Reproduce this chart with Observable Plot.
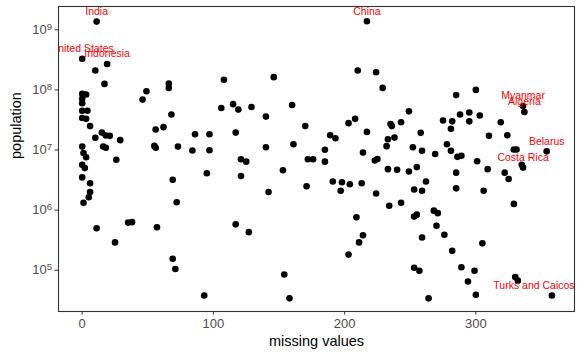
<!DOCTYPE html>
<html><head><meta charset="utf-8">
<script src="https://cdn.jsdelivr.net/npm/d3@7"></script>
<script src="https://cdn.jsdelivr.net/npm/@observablehq/plot@0.6"></script>
<style>body{margin:0;background:#fff;} #chart svg{display:block}</style>
</head><body><div id="chart"></div>
<script>
// labelled countries are the first entries of missing / population
const labels = ["India","United States","Indonesia","China","Myanmar","Algeria","Belarus","Costa Rica","Turks and Caicos"];
const missing = [11,0,19,217,336,337,354,336,358,
  10,17,0,3,0,0,0,4,0,3,6,15,10,18,21,29,0,16,18,1,3,26,0,2,0,6,6,5,1,11,35,38,25,
  49,46,56,55,56,57,62,66,66,68,73,69,72,69,71,86,84,97,97,95,108,106,115,119,129,117,121,125,121,117,127,93,
  140,140,142,146,153,154,158,160,161,170,171,172,176,185,185,189,193,191,197,198,204,213,203,208,210,214,217,209,214,211,203,
  224,223,225,224,229,249,285,300,288,295,303,275,282,295,319,235,236,243,281,258,310,324,233,238,232,252,259,278,281,269,286,289,
  329,331,301,335,233,240,249,255,285,309,322,325,262,253,259,285,306,234,243,329,253,255,268,271,270,259,276,305,282,253,257,289,299,294,264,300,330,332];
const population = [1.37e9,3.3e8,2.7e8,1.39e9,5.4e7,4.3e7,9.5e6,5.1e6,3.8e4,
  2.1e8,1.26e8,8.6e7,8.4e7,7.1e7,6.0e7,4.5e7,4.5e7,3.4e7,3.3e7,2.5e7,1.95e7,1.6e7,1.74e7,1.72e7,1.46e7,1.14e7,1.14e7,1.09e7,8.9e6,7.6e6,6.9e6,5.7e6,5.0e6,3.5e6,2.8e6,2.0e6,1.64e6,1.32e6,5.0e5,6.2e5,6.3e5,2.9e5,
  9.5e7,6.9e7,2.2e7,1.17e7,1.09e7,5.2e5,2.4e7,1.28e8,1.08e8,3.9e7,1.14e7,3.2e6,1.35e6,1.55e5,1.05e5,1.83e7,9.8e6,1.83e7,9.9e6,4.1e6,1.47e8,5.0e7,5.8e7,4.7e7,5.2e7,1.95e7,7.0e6,6.4e6,3.7e6,5.8e5,4.3e5,3.8e4,
  3.6e7,1.11e7,2.0e6,1.63e8,4.6e6,8.5e4,3.4e4,5.6e7,1.25e7,2.5e7,2.5e6,7.0e6,7.0e6,1.01e7,6.4e6,1.76e7,1.57e7,3.0e6,2.1e6,2.9e6,2.7e6,2.8e6,2.8e7,3.3e7,2.1e8,9.1e6,2.0e7,7.6e5,3.8e5,2.9e5,1.82e5,
  1.97e8,6.7e6,7.1e6,1.89e6,1.08e8,4.4e7,8.2e7,1.0e8,3.9e7,4.2e7,3.75e7,3.1e7,3.0e7,3.0e7,2.9e7,2.7e7,2.5e7,2.9e7,2.25e7,1.93e7,1.72e7,1.76e7,1.51e7,1.61e7,1.16e7,1.11e7,9.7e6,1.25e7,9.7e6,8.6e6,7.7e6,8.0e6,
  1.02e7,1.02e7,6.5e6,5.7e6,4.8e6,4.7e6,4.4e6,5.2e6,4.2e6,4.8e6,4.2e6,3.3e6,3.0e6,2.2e6,2.1e6,2.3e6,2.1e6,1.18e6,1.32e6,1.27e6,7.8e5,8.4e5,9.8e5,8.9e5,5.5e5,3.5e5,3.9e5,2.8e5,2.1e5,1.10e5,9.8e4,1.12e5,9.8e4,6.5e4,3.4e4,3.9e4,7.7e4,6.7e4];
const xTicks = [0, 100, 200, 300];
const yTicks = [1e5, 1e6, 1e7, 1e8, 1e9];
const xTitle = "missing values";
const yTitle = "population";

const data = missing.map((m, i) => ({missing: m, population: population[i], label: labels[i] ?? null}));
const labelled = data.filter(d => d.label && d.label !== "Turks and Caicos");
const edgeLabel = data.filter(d => d.label === "Turks and Caicos");

const font = "'Liberation Sans', Arial, Helvetica, sans-serif";
const plot = Plot.plot({
  width: 577, height: 354,
  marginLeft: 58, marginRight: 3, marginTop: 6, marginBottom: 43,
  style: {fontFamily: font, background: "#fff", overflow: "visible"},
  x: {domain: [-18.06, 375.2]},
  y: {type: "log", domain: [Math.pow(10, 4.313), Math.pow(10, 9.388)]},
  marks: [
    Plot.axisX({ticks: xTicks, tickSize: 3.5, tickPadding: 4, fontSize: 13, stroke: "#333", fill: "#4d4d4d", label: null}),
    Plot.axisY({ticks: yTicks, tickSize: 3.5, tickPadding: 3, fontSize: 13, stroke: "#333", fill: "#4d4d4d", label: null,
      tickFormat: d => "10^" + Math.round(Math.log10(d))}),
    Plot.dot(data, {x: "missing", y: "population", r: 3.3, fill: "black", stroke: "none"}),
    Plot.text(labelled, {x: "missing", y: "population", text: "label", dy: -10, fill: "red", fontSize: 10.5, clip: true}),
    Plot.text(edgeLabel, {x: "missing", y: "population", text: "label", dy: -10, dx: -18, fill: "red", fontSize: 10.5, clip: true}),
    Plot.frame({stroke: "#333", strokeWidth: 1.1}),
    Plot.text([xTitle], {frameAnchor: "bottom", text: d => d, dy: 34.5, fontSize: 14.5, fill: "black"}),
    Plot.text([yTitle], {frameAnchor: "left", text: d => d, rotate: -90, dx: -42.5, fontSize: 14.5, fill: "black"})
  ]
});

// superscript exponents on the log axis labels
plot.querySelectorAll("text").forEach(t => {
  const m = /^10\^(\d+)$/.exec(t.textContent);
  if (m) {
    t.textContent = "10";
    const s = document.createElementNS("http://www.w3.org/2000/svg", "tspan");
    s.setAttribute("dy", "-0.45em");
    s.setAttribute("font-size", "9.5");
    s.textContent = m[1];
    t.appendChild(s);
  }
});
document.getElementById("chart").appendChild(plot);
</script>
</body></html>
